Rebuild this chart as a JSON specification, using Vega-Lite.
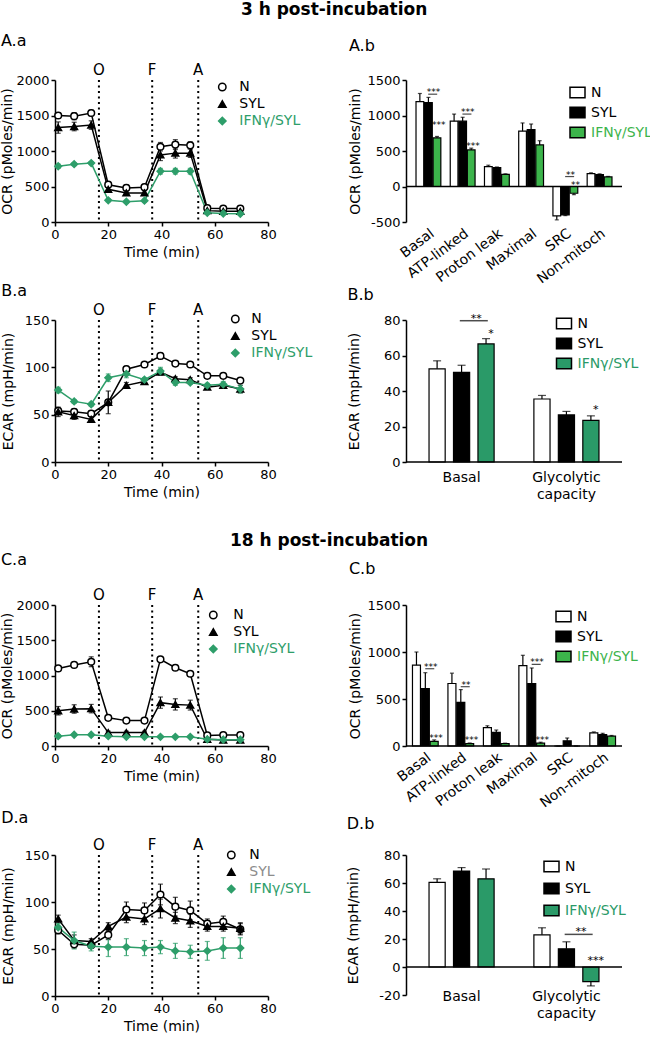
{
  "$schema": "https://vega.github.io/schema/vega-lite/v6.json",
  "background": "white",
  "padding": {"left": 0, "top": 1, "right": 0, "bottom": 0},
  "config": {
    "font": "DejaVu Sans",
    "view": {"stroke": null},
    "axis": {"grid": false, "domainColor": "black", "domainWidth": 1.5, "tickColor": "black", "tickWidth": 1.5, "tickSize": 4, "labelColor": "black", "titleColor": "black", "labelFontSize": 13, "titleFontSize": 14, "titleFontWeight": "normal", "labelPadding": 2, "labelFlush": false, "labelOverlap": false},
    "legend": {"labelFontSize": 14, "rowPadding": 3, "symbolStrokeWidth": 1.5},
    "title": {"fontSize": 16, "fontWeight": "normal", "anchor": "start", "color": "black", "frame": "bounds"},
    "text": {"color": "black"}
  },
  "datasets": {
    "inj": [{"lab": "O", "t": 16.5}, {"lab": "F", "t": 36.5}, {"lab": "A", "t": 53.8}],
    "aa": [
      {"t":1.2,"g":"N","v":1500,"e":40},{"t":7.2,"g":"N","v":1490,"e":50},{"t":13.6,"g":"N","v":1535,"e":40},{"t":20,"g":"N","v":525,"e":40},{"t":26.8,"g":"N","v":480,"e":40},{"t":33.6,"g":"N","v":490,"e":40},{"t":39.6,"g":"N","v":1060,"e":60},{"t":45.2,"g":"N","v":1090,"e":70},{"t":50.8,"g":"N","v":1080,"e":50},{"t":57.2,"g":"N","v":195,"e":30},{"t":63.2,"g":"N","v":190,"e":30},{"t":69.6,"g":"N","v":190,"e":30},
      {"t":1.2,"g":"SYL","v":1330,"e":80},{"t":7.2,"g":"SYL","v":1345,"e":60},{"t":13.6,"g":"SYL","v":1365,"e":60},{"t":20,"g":"SYL","v":460,"e":40},{"t":26.8,"g":"SYL","v":410,"e":30},{"t":33.6,"g":"SYL","v":410,"e":30},{"t":39.6,"g":"SYL","v":945,"e":80},{"t":45.2,"g":"SYL","v":970,"e":70},{"t":50.8,"g":"SYL","v":970,"e":60},{"t":57.2,"g":"SYL","v":160,"e":30},{"t":63.2,"g":"SYL","v":150,"e":20},{"t":69.6,"g":"SYL","v":150,"e":20},
      {"t":1.2,"g":"IFNγ/SYL","v":785,"e":30},{"t":7.2,"g":"IFNγ/SYL","v":815,"e":20},{"t":13.6,"g":"IFNγ/SYL","v":830,"e":20},{"t":20,"g":"IFNγ/SYL","v":305,"e":20},{"t":26.8,"g":"IFNγ/SYL","v":285,"e":20},{"t":33.6,"g":"IFNγ/SYL","v":300,"e":20},{"t":39.6,"g":"IFNγ/SYL","v":715,"e":40},{"t":45.2,"g":"IFNγ/SYL","v":715,"e":40},{"t":50.8,"g":"IFNγ/SYL","v":715,"e":40},{"t":57.2,"g":"IFNγ/SYL","v":130,"e":20},{"t":63.2,"g":"IFNγ/SYL","v":120,"e":20},{"t":69.6,"g":"IFNγ/SYL","v":115,"e":20}
    ],
    "ba": [
      {"t":1.2,"g":"N","v":54,"e":3},{"t":7.2,"g":"N","v":53,"e":3},{"t":13.6,"g":"N","v":51,"e":3},{"t":20,"g":"N","v":63,"e":12},{"t":26.8,"g":"N","v":98,"e":3},{"t":33.6,"g":"N","v":103,"e":2},{"t":39.6,"g":"N","v":112,"e":3},{"t":45.2,"g":"N","v":104,"e":2},{"t":50.8,"g":"N","v":103,"e":2},{"t":57.2,"g":"N","v":91,"e":2},{"t":63.2,"g":"N","v":91,"e":2},{"t":69.6,"g":"N","v":86,"e":2},
      {"t":1.2,"g":"SYL","v":53,"e":5},{"t":7.2,"g":"SYL","v":49,"e":4},{"t":13.6,"g":"SYL","v":45,"e":3},{"t":20,"g":"SYL","v":63,"e":3},{"t":26.8,"g":"SYL","v":81,"e":3},{"t":33.6,"g":"SYL","v":85,"e":2},{"t":39.6,"g":"SYL","v":95,"e":3},{"t":45.2,"g":"SYL","v":88,"e":2},{"t":50.8,"g":"SYL","v":87,"e":2},{"t":57.2,"g":"SYL","v":79,"e":2},{"t":63.2,"g":"SYL","v":81,"e":2},{"t":69.6,"g":"SYL","v":77,"e":4},
      {"t":1.2,"g":"IFNγ/SYL","v":76,"e":3},{"t":7.2,"g":"IFNγ/SYL","v":64,"e":2},{"t":13.6,"g":"IFNγ/SYL","v":61,"e":2},{"t":20,"g":"IFNγ/SYL","v":89,"e":4},{"t":26.8,"g":"IFNγ/SYL","v":93,"e":4},{"t":33.6,"g":"IFNγ/SYL","v":87,"e":2},{"t":39.6,"g":"IFNγ/SYL","v":96,"e":4},{"t":45.2,"g":"IFNγ/SYL","v":84,"e":3},{"t":50.8,"g":"IFNγ/SYL","v":84,"e":2},{"t":57.2,"g":"IFNγ/SYL","v":81,"e":2},{"t":63.2,"g":"IFNγ/SYL","v":82,"e":3},{"t":69.6,"g":"IFNγ/SYL","v":77,"e":4}
    ],
    "ca": [
      {"t":1.2,"g":"N","v":1100,"e":20},{"t":7.2,"g":"N","v":1150,"e":20},{"t":13.6,"g":"N","v":1195,"e":70},{"t":20,"g":"N","v":400,"e":30},{"t":26.8,"g":"N","v":360,"e":20},{"t":33.6,"g":"N","v":360,"e":20},{"t":39.6,"g":"N","v":1230,"e":30},{"t":45.2,"g":"N","v":1110,"e":30},{"t":50.8,"g":"N","v":1025,"e":20},{"t":57.2,"g":"N","v":150,"e":20},{"t":63.2,"g":"N","v":155,"e":20},{"t":69.6,"g":"N","v":155,"e":20},
      {"t":1.2,"g":"SYL","v":500,"e":60},{"t":7.2,"g":"SYL","v":525,"e":60},{"t":13.6,"g":"SYL","v":530,"e":60},{"t":20,"g":"SYL","v":190,"e":20},{"t":26.8,"g":"SYL","v":190,"e":20},{"t":33.6,"g":"SYL","v":190,"e":20},{"t":39.6,"g":"SYL","v":615,"e":80},{"t":45.2,"g":"SYL","v":590,"e":80},{"t":50.8,"g":"SYL","v":580,"e":70},{"t":57.2,"g":"SYL","v":95,"e":20},{"t":63.2,"g":"SYL","v":85,"e":20},{"t":69.6,"g":"SYL","v":85,"e":20},
      {"t":1.2,"g":"IFNγ/SYL","v":140,"e":20},{"t":7.2,"g":"IFNγ/SYL","v":160,"e":10},{"t":13.6,"g":"IFNγ/SYL","v":160,"e":10},{"t":20,"g":"IFNγ/SYL","v":140,"e":10},{"t":26.8,"g":"IFNγ/SYL","v":130,"e":10},{"t":33.6,"g":"IFNγ/SYL","v":130,"e":10},{"t":39.6,"g":"IFNγ/SYL","v":130,"e":10},{"t":45.2,"g":"IFNγ/SYL","v":130,"e":10},{"t":50.8,"g":"IFNγ/SYL","v":130,"e":10},{"t":57.2,"g":"IFNγ/SYL","v":95,"e":10},{"t":63.2,"g":"IFNγ/SYL","v":90,"e":10},{"t":69.6,"g":"IFNγ/SYL","v":90,"e":10}
    ],
    "da": [
      {"t":1.2,"g":"N","v":70,"e":4},{"t":7.2,"g":"N","v":55,"e":4},{"t":13.6,"g":"N","v":54,"e":3},{"t":20,"g":"N","v":65,"e":5},{"t":26.8,"g":"N","v":92,"e":8},{"t":33.6,"g":"N","v":91,"e":8},{"t":39.6,"g":"N","v":108,"e":11},{"t":45.2,"g":"N","v":95,"e":10},{"t":50.8,"g":"N","v":91,"e":10},{"t":57.2,"g":"N","v":77,"e":5},{"t":63.2,"g":"N","v":79,"e":6},{"t":69.6,"g":"N","v":71,"e":6},
      {"t":1.2,"g":"SYL","v":82,"e":4},{"t":7.2,"g":"SYL","v":59,"e":6},{"t":13.6,"g":"SYL","v":58,"e":3},{"t":20,"g":"SYL","v":74,"e":4},{"t":26.8,"g":"SYL","v":84,"e":6},{"t":33.6,"g":"SYL","v":82,"e":6},{"t":39.6,"g":"SYL","v":93,"e":10},{"t":45.2,"g":"SYL","v":83,"e":6},{"t":50.8,"g":"SYL","v":80,"e":7},{"t":57.2,"g":"SYL","v":74,"e":5},{"t":63.2,"g":"SYL","v":74,"e":5},{"t":69.6,"g":"SYL","v":72,"e":6},
      {"t":1.2,"g":"IFNγ/SYL","v":73,"e":4},{"t":7.2,"g":"IFNγ/SYL","v":59,"e":9},{"t":13.6,"g":"IFNγ/SYL","v":53,"e":5},{"t":20,"g":"IFNγ/SYL","v":52,"e":10},{"t":26.8,"g":"IFNγ/SYL","v":52,"e":9},{"t":33.6,"g":"IFNγ/SYL","v":51,"e":8},{"t":39.6,"g":"IFNγ/SYL","v":52,"e":7},{"t":45.2,"g":"IFNγ/SYL","v":48,"e":8},{"t":50.8,"g":"IFNγ/SYL","v":47,"e":7},{"t":57.2,"g":"IFNγ/SYL","v":48,"e":10},{"t":63.2,"g":"IFNγ/SYL","v":51,"e":11},{"t":69.6,"g":"IFNγ/SYL","v":51,"e":11}
    ],
    "ab": [
      {"cat":"Basal","g":"N","v":1195,"hi":1310},{"cat":"Basal","g":"SYL","v":1180,"hi":1255},{"cat":"Basal","g":"IFNγ/SYL","v":685,"hi":705},
      {"cat":"ATP-linked","g":"N","v":920,"hi":1020},{"cat":"ATP-linked","g":"SYL","v":920,"hi":975},{"cat":"ATP-linked","g":"IFNγ/SYL","v":515,"hi":540},
      {"cat":"Proton leak","g":"N","v":280,"hi":300},{"cat":"Proton leak","g":"SYL","v":265,"hi":275},{"cat":"Proton leak","g":"IFNγ/SYL","v":170,"hi":178},
      {"cat":"Maximal","g":"N","v":780,"hi":895},{"cat":"Maximal","g":"SYL","v":800,"hi":880},{"cat":"Maximal","g":"IFNγ/SYL","v":585,"hi":645},
      {"cat":"SRC","g":"N","v":-415,"hi":-470},{"cat":"SRC","g":"SYL","v":-400,"hi":-410},{"cat":"SRC","g":"IFNγ/SYL","v":-95,"hi":-115},
      {"cat":"Non-mitoch","g":"N","v":180,"hi":192},{"cat":"Non-mitoch","g":"SYL","v":168,"hi":178},{"cat":"Non-mitoch","g":"IFNγ/SYL","v":135,"hi":142}
    ],
    "abl": [{"cat":"Basal","pos":"SYL|IFN","y":1300},{"cat":"ATP-linked","pos":"SYL|IFN","y":1020},{"cat":"SRC","pos":"SYL|IFN","y":140}],
    "abs": [{"cat":"Basal","pos":"SYL|IFN","y":1300,"s":"***"},{"cat":"ATP-linked","pos":"SYL|IFN","y":1020,"s":"***"},{"cat":"SRC","pos":"SYL|IFN","y":140,"s":"**"},{"cat":"Basal","pos":"IFN","y":845,"s":"***"},{"cat":"ATP-linked","pos":"IFN","y":545,"s":"***"},{"cat":"SRC","pos":"IFN","y":-10,"s":"**"}],
    "bb": [
      {"cat":"Basal","g":"N","v":52.5,"hi":57},{"cat":"Basal","g":"SYL","v":50.5,"hi":54.5},{"cat":"Basal","g":"IFNγ/SYL","v":66.5,"hi":69.5},
      {"cat":"Glycolytic capacity","g":"N","v":35.5,"hi":37.5},{"cat":"Glycolytic capacity","g":"SYL","v":26.5,"hi":28.5},{"cat":"Glycolytic capacity","g":"IFNγ/SYL","v":23.5,"hi":26}
    ],
    "bbl": [{"cat":"Basal","pos":"SYL|IFN","y":79.6}],
    "bbs": [{"cat":"Basal","pos":"SYL|IFN","y":79.6,"s":"**"},{"cat":"Basal","pos":"IFN","y":71,"s":"*"},{"cat":"Glycolytic capacity","pos":"IFN","y":28,"s":"*"}],
    "cb": [
      {"cat":"Basal","g":"N","v":860,"hi":1000},{"cat":"Basal","g":"SYL","v":610,"hi":780},{"cat":"Basal","g":"IFNγ/SYL","v":50,"hi":65},
      {"cat":"ATP-linked","g":"N","v":665,"hi":775},{"cat":"ATP-linked","g":"SYL","v":465,"hi":600},{"cat":"ATP-linked","g":"IFNγ/SYL","v":25,"hi":32},
      {"cat":"Proton leak","g":"N","v":195,"hi":215},{"cat":"Proton leak","g":"SYL","v":145,"hi":170},{"cat":"Proton leak","g":"IFNγ/SYL","v":25,"hi":30},
      {"cat":"Maximal","g":"N","v":855,"hi":965},{"cat":"Maximal","g":"SYL","v":665,"hi":830},{"cat":"Maximal","g":"IFNγ/SYL","v":30,"hi":40},
      {"cat":"SRC","g":"N","v":0,"hi":0},{"cat":"SRC","g":"SYL","v":55,"hi":85},{"cat":"SRC","g":"IFNγ/SYL","v":0,"hi":0},
      {"cat":"Non-mitoch","g":"N","v":140,"hi":150},{"cat":"Non-mitoch","g":"SYL","v":120,"hi":135},{"cat":"Non-mitoch","g":"IFNγ/SYL","v":105,"hi":112}
    ],
    "cbl": [{"cat":"Basal","pos":"SYL|IFN","y":822},{"cat":"ATP-linked","pos":"SYL|IFN","y":631},{"cat":"Maximal","pos":"SYL|IFN","y":869}],
    "cbs": [{"cat":"Basal","pos":"SYL|IFN","y":822,"s":"***"},{"cat":"ATP-linked","pos":"SYL|IFN","y":631,"s":"**"},{"cat":"Maximal","pos":"SYL|IFN","y":869,"s":"***"},{"cat":"Basal","pos":"IFN","y":61,"s":"***"},{"cat":"ATP-linked","pos":"IFN","y":43,"s":"***"},{"cat":"Maximal","pos":"IFN","y":43,"s":"***"}],
    "db": [
      {"cat":"Basal","g":"N","v":60.5,"hi":63},{"cat":"Basal","g":"SYL","v":68.5,"hi":71},{"cat":"Basal","g":"IFNγ/SYL","v":63,"hi":70},
      {"cat":"Glycolytic capacity","g":"N","v":23,"hi":28},{"cat":"Glycolytic capacity","g":"SYL","v":13,"hi":18},{"cat":"Glycolytic capacity","g":"IFNγ/SYL","v":-10.5,"hi":-13.5}
    ],
    "dbl": [{"cat":"Glycolytic capacity","pos":"SYL|IFN","y":23.3}],
    "dbs": [{"cat":"Glycolytic capacity","pos":"SYL|IFN","y":23.3,"s":"**"},{"cat":"Glycolytic capacity","pos":"IFN","y":3,"s":"***"}],
    "zero": [{"z": 0}]
  },
  "spacing": 31,
  "resolve": {"scale": {"color": "independent", "fill": "independent", "stroke": "independent", "shape": "independent", "xOffset": "independent"}, "legend": {"color": "independent", "fill": "independent", "stroke": "independent", "shape": "independent"}},
  "vconcat": [
    {
      "title": {"text": "3 h post-incubation", "anchor": "start", "dx": 240, "frame": "bounds", "fontSize": 17, "fontWeight": "bold", "offset": 14},
      "columns": 2, "bounds": "flush", "align": "each", "spacing": {"row": 98, "column": 138},
      "resolve": {"scale": {"color": "independent", "fill": "independent", "stroke": "independent", "shape": "independent", "xOffset": "independent"}, "legend": {"color": "independent", "fill": "independent", "stroke": "independent", "shape": "independent"}},
      "concat": [
        {
          "width": 213, "height": 142,
          "title": {"text": "A.a", "offset": 14},
          "encoding": {"x": {"field": "t", "type": "quantitative", "scale": {"domain": [0, 80], "nice": false}, "axis": {"values": [0, 20, 40, 60, 80], "title": "Time (min)"}}},
          "layer": [
            {"data": {"name": "inj"}, "mark": {"type": "rule", "strokeDash": [2, 3.5], "strokeWidth": 2, "color": "black"}, "encoding": {}},
            {"data": {"name": "inj"}, "mark": {"type": "text", "baseline": "bottom", "dy": -2, "fontSize": 15}, "encoding": {"y": {"datum": 2000, "type": "quantitative", "scale": {"domain": [0, 2000], "nice": false}, "axis": {"values": [0, 500, 1000, 1500, 2000], "labelExpr": "'' + datum.value", "title": "OCR (pMoles/min)", "titlePadding": 1}}, "text": {"field": "lab"}}},
            {"data": {"name": "aa"}, "transform": [{"filter": "datum.g != 'IFNγ/SYL'"}], "mark": {"type": "errorbar", "ticks": true, "size": 5, "thickness": 1.2, "color": "black"}, "encoding": {"y": {"field": "v", "type": "quantitative", "scale": {"domain": [0, 2000], "nice": false}, "axis": {"values": [0, 500, 1000, 1500, 2000], "labelExpr": "'' + datum.value", "title": "OCR (pMoles/min)", "titlePadding": 1}}, "yError": {"field": "e"}}},
            {"data": {"name": "aa"}, "transform": [{"filter": "datum.g == 'IFNγ/SYL'"}], "mark": {"type": "errorbar", "ticks": true, "size": 5, "thickness": 1.2, "color": "#2e9e6a"}, "encoding": {"y": {"field": "v", "type": "quantitative", "scale": {"domain": [0, 2000], "nice": false}, "axis": {"values": [0, 500, 1000, 1500, 2000], "labelExpr": "'' + datum.value", "title": "OCR (pMoles/min)", "titlePadding": 1}}, "yError": {"field": "e"}}},
            {"data": {"name": "aa"}, "transform": [{"filter": "datum.g != 'IFNγ/SYL'"}], "mark": {"type": "line", "strokeWidth": 1.5, "color": "black"}, "encoding": {"y": {"field": "v", "type": "quantitative", "scale": {"domain": [0, 2000], "nice": false}, "axis": {"values": [0, 500, 1000, 1500, 2000], "labelExpr": "'' + datum.value", "title": "OCR (pMoles/min)", "titlePadding": 1}}, "detail": {"field": "g"}}},
            {"data": {"name": "aa"}, "transform": [{"filter": "datum.g == 'IFNγ/SYL'"}], "mark": {"type": "line", "strokeWidth": 1.5, "color": "#2e9e6a"}, "encoding": {"y": {"field": "v", "type": "quantitative", "scale": {"domain": [0, 2000], "nice": false}, "axis": {"values": [0, 500, 1000, 1500, 2000], "labelExpr": "'' + datum.value", "title": "OCR (pMoles/min)", "titlePadding": 1}}}},
            {"data": {"name": "aa"}, "mark": {"type": "point", "size": 45, "strokeWidth": 1.5, "opacity": 1}, "encoding": {"y": {"field": "v", "type": "quantitative", "scale": {"domain": [0, 2000], "nice": false}, "axis": {"values": [0, 500, 1000, 1500, 2000], "labelExpr": "'' + datum.value", "title": "OCR (pMoles/min)", "titlePadding": 1}},
              "shape": {"field": "g", "type": "nominal", "scale": {"domain": ["N", "SYL", "IFNγ/SYL"], "range": ["circle", "triangle-up", "diamond"]}, "legend": {"orient": "none", "title": null, "legendX": 160.3, "legendY": 0, "labelOffset": 10, "symbolSize": 55, "labelColor": {"expr": "datum.label == 'IFNγ/SYL' ? '#2e9e6a' : 'black'"}}},
              "fill": {"field": "g", "type": "nominal", "scale": {"domain": ["N", "SYL", "IFNγ/SYL"], "range": ["white", "black", "#2e9e6a"]}, "legend": {"orient": "none", "title": null, "legendX": 160.3, "legendY": 0, "labelOffset": 10, "symbolSize": 55, "labelColor": {"expr": "datum.label == 'IFNγ/SYL' ? '#2e9e6a' : 'black'"}}},
              "stroke": {"field": "g", "type": "nominal", "scale": {"domain": ["N", "SYL", "IFNγ/SYL"], "range": ["black", "black", "#2e9e6a"]}, "legend": {"orient": "none", "title": null, "legendX": 160.3, "legendY": 0, "labelOffset": 10, "symbolSize": 55, "labelColor": {"expr": "datum.label == 'IFNγ/SYL' ? '#2e9e6a' : 'black'"}}}}}
          ]
        },
        {
          "width": 216, "height": 142,
          "title": {"text": "A.b", "offset": 20},
          "resolve": {"scale": {"xOffset": "independent"}},
          "layer": [
            {"data": {"name": "ab"}, "mark": {"type": "bar", "stroke": "black", "strokeWidth": 1.2},
             "encoding": {
               "x": {"field": "cat", "type": "nominal", "sort": ["Basal", "ATP-linked", "Proton leak", "Maximal", "SRC", "Non-mitoch"], "scale": {"paddingInner": 0.25, "paddingOuter": 0.28}, "axis": {"title": null, "domain": false, "ticks": false, "labelAngle": -37, "labelFontSize": 14, "labelPadding": 4}},
               "xOffset": {"field": "g", "type": "nominal", "sort": ["N", "SYL", "IFNγ/SYL"], "scale": {"domain": ["N", "SYL", "IFNγ/SYL"], "paddingInner": 0.1, "paddingOuter": 0.05}},
               "y": {"field": "v", "type": "quantitative", "stack": null, "scale": {"domain": [-500, 1500], "nice": false}, "axis": {"values": [-500, 0, 500, 1000, 1500], "labelExpr": "'' + datum.value", "title": "OCR (pMoles/min)", "titlePadding": 4}},
               "fill": {"field": "g", "type": "nominal", "scale": {"domain": ["N", "SYL", "IFNγ/SYL"], "range": ["white", "black", "#3cb44b"]}, "legend": {"orient": "none", "title": null, "legendX": 163, "legendY": 4, "symbolType": "M-1,-0.7H1V0.7H-1Z", "symbolSize": 225, "symbolStrokeColor": "black", "labelOffset": 5, "labelColor": {"expr": "datum.label == 'IFNγ/SYL' ? '#3cb44b' : 'black'"}}}
             }},
            {"data": {"name": "ab"}, "mark": {"type": "rule", "strokeWidth": 1.2, "color": "black"},
             "encoding": {
               "x": {"field": "cat", "type": "nominal", "sort": ["Basal", "ATP-linked", "Proton leak", "Maximal", "SRC", "Non-mitoch"], "scale": {"paddingInner": 0.25, "paddingOuter": 0.28}, "axis": {"title": null, "domain": false, "ticks": false, "labelAngle": -37, "labelFontSize": 14, "labelPadding": 4}},
               "xOffset": {"field": "g", "type": "nominal", "sort": ["N", "SYL", "IFNγ/SYL"], "scale": {"domain": ["N", "SYL", "IFNγ/SYL"], "paddingInner": 0.1, "paddingOuter": 0.05}},
               "y": {"field": "v", "type": "quantitative", "stack": null, "scale": {"domain": [-500, 1500], "nice": false}, "axis": {"values": [-500, 0, 500, 1000, 1500], "labelExpr": "'' + datum.value", "title": "OCR (pMoles/min)", "titlePadding": 4}},
               "y2": {"field": "hi"}
             }},
            {"data": {"name": "ab"}, "mark": {"type": "tick", "orient": "horizontal", "size": 4, "thickness": 1.2, "color": "black"},
             "encoding": {
               "x": {"field": "cat", "type": "nominal", "sort": ["Basal", "ATP-linked", "Proton leak", "Maximal", "SRC", "Non-mitoch"], "scale": {"paddingInner": 0.25, "paddingOuter": 0.28}, "axis": {"title": null, "domain": false, "ticks": false, "labelAngle": -37, "labelFontSize": 14, "labelPadding": 4}},
               "xOffset": {"field": "g", "type": "nominal", "sort": ["N", "SYL", "IFNγ/SYL"], "scale": {"domain": ["N", "SYL", "IFNγ/SYL"], "paddingInner": 0.1, "paddingOuter": 0.05}},
               "y": {"field": "hi", "type": "quantitative", "stack": null, "scale": {"domain": [-500, 1500], "nice": false}, "axis": {"values": [-500, 0, 500, 1000, 1500], "labelExpr": "'' + datum.value", "title": "OCR (pMoles/min)", "titlePadding": 4}}
             }},
            {"data": {"name": "zero"}, "mark": {"type": "rule", "strokeWidth": 1.5, "color": "black"},
             "encoding": {"y": {"field": "z", "type": "quantitative", "scale": {"domain": [-500, 1500], "nice": false}, "axis": {"values": [-500, 0, 500, 1000, 1500], "labelExpr": "'' + datum.value", "title": "OCR (pMoles/min)", "titlePadding": 4}}}},
            {"data": {"name": "abl"}, "mark": {"type": "tick", "orient": "horizontal", "size": 9, "thickness": 1.2, "color": "black"},
             "encoding": {
               "x": {"field": "cat", "type": "nominal", "sort": ["Basal", "ATP-linked", "Proton leak", "Maximal", "SRC", "Non-mitoch"], "scale": {"paddingInner": 0.25, "paddingOuter": 0.28}, "axis": {"title": null, "domain": false, "ticks": false, "labelAngle": -37, "labelFontSize": 14, "labelPadding": 4}},
               "xOffset": {"field": "pos", "type": "nominal", "scale": {"domain": ["N", "N|SYL", "SYL", "SYL|IFN", "IFN"], "paddingInner": 0, "paddingOuter": 0.5}},
               "y": {"field": "y", "type": "quantitative", "scale": {"domain": [-500, 1500], "nice": false}, "axis": {"values": [-500, 0, 500, 1000, 1500], "labelExpr": "'' + datum.value", "title": "OCR (pMoles/min)", "titlePadding": 4}}
             }},
            {"data": {"name": "abs"}, "mark": {"type": "text", "fontSize": 9, "baseline": "alphabetic", "dy": 1},
             "encoding": {
               "x": {"field": "cat", "type": "nominal", "sort": ["Basal", "ATP-linked", "Proton leak", "Maximal", "SRC", "Non-mitoch"], "scale": {"paddingInner": 0.25, "paddingOuter": 0.28}, "axis": {"title": null, "domain": false, "ticks": false, "labelAngle": -37, "labelFontSize": 14, "labelPadding": 4}},
               "xOffset": {"field": "pos", "type": "nominal", "scale": {"domain": ["N", "N|SYL", "SYL", "SYL|IFN", "IFN"], "paddingInner": 0, "paddingOuter": 0.5}},
               "y": {"field": "y", "type": "quantitative", "scale": {"domain": [-500, 1500], "nice": false}, "axis": {"values": [-500, 0, 500, 1000, 1500], "labelExpr": "'' + datum.value", "title": "OCR (pMoles/min)", "titlePadding": 4}},
               "text": {"field": "s"}
             }}
          ]
        },
        {
          "width": 213, "height": 142,
          "title": {"text": "B.a", "offset": 4},
          "encoding": {"x": {"field": "t", "type": "quantitative", "scale": {"domain": [0, 80], "nice": false}, "axis": {"values": [0, 20, 40, 60, 80], "title": "Time (min)"}}},
          "layer": [
            {"data": {"name": "inj"}, "mark": {"type": "rule", "strokeDash": [2, 3.5], "strokeWidth": 2, "color": "black"}, "encoding": {}},
            {"data": {"name": "inj"}, "mark": {"type": "text", "baseline": "bottom", "dy": -2, "fontSize": 15}, "encoding": {"y": {"datum": 150, "type": "quantitative", "scale": {"domain": [0, 150], "nice": false}, "axis": {"values": [0, 50, 100, 150], "title": "ECAR (mpH/min)", "titlePadding": 9}}, "text": {"field": "lab"}}},
            {"data": {"name": "ba"}, "transform": [{"filter": "datum.g != 'IFNγ/SYL'"}], "mark": {"type": "errorbar", "ticks": true, "size": 5, "thickness": 1.2, "color": "black"}, "encoding": {"y": {"field": "v", "type": "quantitative", "scale": {"domain": [0, 150], "nice": false}, "axis": {"values": [0, 50, 100, 150], "title": "ECAR (mpH/min)", "titlePadding": 9}}, "yError": {"field": "e"}}},
            {"data": {"name": "ba"}, "transform": [{"filter": "datum.g == 'IFNγ/SYL'"}], "mark": {"type": "errorbar", "ticks": true, "size": 5, "thickness": 1.2, "color": "#2e9e6a"}, "encoding": {"y": {"field": "v", "type": "quantitative", "scale": {"domain": [0, 150], "nice": false}, "axis": {"values": [0, 50, 100, 150], "title": "ECAR (mpH/min)", "titlePadding": 9}}, "yError": {"field": "e"}}},
            {"data": {"name": "ba"}, "transform": [{"filter": "datum.g != 'IFNγ/SYL'"}], "mark": {"type": "line", "strokeWidth": 1.5, "color": "black"}, "encoding": {"y": {"field": "v", "type": "quantitative", "scale": {"domain": [0, 150], "nice": false}, "axis": {"values": [0, 50, 100, 150], "title": "ECAR (mpH/min)", "titlePadding": 9}}, "detail": {"field": "g"}}},
            {"data": {"name": "ba"}, "transform": [{"filter": "datum.g == 'IFNγ/SYL'"}], "mark": {"type": "line", "strokeWidth": 1.5, "color": "#2e9e6a"}, "encoding": {"y": {"field": "v", "type": "quantitative", "scale": {"domain": [0, 150], "nice": false}, "axis": {"values": [0, 50, 100, 150], "title": "ECAR (mpH/min)", "titlePadding": 9}}}},
            {"data": {"name": "ba"}, "mark": {"type": "point", "size": 45, "strokeWidth": 1.5, "opacity": 1}, "encoding": {"y": {"field": "v", "type": "quantitative", "scale": {"domain": [0, 150], "nice": false}, "axis": {"values": [0, 50, 100, 150], "title": "ECAR (mpH/min)", "titlePadding": 9}},
              "shape": {"field": "g", "type": "nominal", "scale": {"domain": ["N", "SYL", "IFNγ/SYL"], "range": ["circle", "triangle-up", "diamond"]}, "legend": {"orient": "none", "title": null, "legendX": 173.3, "legendY": -8, "labelOffset": 9, "symbolSize": 55, "labelColor": {"expr": "datum.label == 'IFNγ/SYL' ? '#2e9e6a' : 'black'"}}},
              "fill": {"field": "g", "type": "nominal", "scale": {"domain": ["N", "SYL", "IFNγ/SYL"], "range": ["white", "black", "#2e9e6a"]}, "legend": {"orient": "none", "title": null, "legendX": 173.3, "legendY": -8, "labelOffset": 9, "symbolSize": 55, "labelColor": {"expr": "datum.label == 'IFNγ/SYL' ? '#2e9e6a' : 'black'"}}},
              "stroke": {"field": "g", "type": "nominal", "scale": {"domain": ["N", "SYL", "IFNγ/SYL"], "range": ["black", "black", "#2e9e6a"]}, "legend": {"orient": "none", "title": null, "legendX": 173.3, "legendY": -8, "labelOffset": 9, "symbolSize": 55, "labelColor": {"expr": "datum.label == 'IFNγ/SYL' ? '#2e9e6a' : 'black'"}}}}}
          ]
        },
        {
          "width": 216, "height": 142,
          "title": {"text": "B.b", "offset": 10},
          "resolve": {"scale": {"xOffset": "independent"}},
          "layer": [
            {"data": {"name": "bb"}, "mark": {"type": "bar", "stroke": "black", "strokeWidth": 1.2},
             "encoding": {
               "x": {"field": "cat", "type": "nominal", "sort": ["Basal", "Glycolytic capacity"], "scale": {"paddingInner": 0.3, "paddingOuter": 0.18}, "axis": {"title": null, "domain": false, "ticks": false, "labelAngle": 0, "labelFontSize": 14, "labelPadding": 8, "labelLineHeight": 17, "labelExpr": "datum.label == 'Glycolytic capacity' ? ['Glycolytic', 'capacity'] : datum.label"}},
               "xOffset": {"field": "g", "type": "nominal", "sort": ["N", "SYL", "IFNγ/SYL"], "scale": {"domain": ["N", "SYL", "IFNγ/SYL"], "paddingInner": 0.34, "paddingOuter": 0.17}},
               "y": {"field": "v", "type": "quantitative", "stack": null, "scale": {"domain": [0, 80], "nice": false}, "axis": {"values": [0, 20, 40, 60, 80], "title": "ECAR (mpH/min)", "titlePadding": 22}},
               "fill": {"field": "g", "type": "nominal", "scale": {"domain": ["N", "SYL", "IFNγ/SYL"], "range": ["white", "black", "#2a9a68"]}, "legend": {"orient": "none", "title": null, "legendX": 149.5, "legendY": -5, "symbolType": "M-1,-0.7H1V0.7H-1Z", "symbolSize": 225, "symbolStrokeColor": "black", "labelOffset": 5, "labelColor": {"expr": "datum.label == 'IFNγ/SYL' ? '#2a9a68' : 'black'"}}}
             }},
            {"data": {"name": "bb"}, "mark": {"type": "rule", "strokeWidth": 1.2, "color": "black"},
             "encoding": {
               "x": {"field": "cat", "type": "nominal", "sort": ["Basal", "Glycolytic capacity"], "scale": {"paddingInner": 0.3, "paddingOuter": 0.18}, "axis": {"title": null, "domain": false, "ticks": false, "labelAngle": 0, "labelFontSize": 14, "labelPadding": 8, "labelLineHeight": 17, "labelExpr": "datum.label == 'Glycolytic capacity' ? ['Glycolytic', 'capacity'] : datum.label"}},
               "xOffset": {"field": "g", "type": "nominal", "sort": ["N", "SYL", "IFNγ/SYL"], "scale": {"domain": ["N", "SYL", "IFNγ/SYL"], "paddingInner": 0.34, "paddingOuter": 0.17}},
               "y": {"field": "v", "type": "quantitative", "stack": null, "scale": {"domain": [0, 80], "nice": false}, "axis": {"values": [0, 20, 40, 60, 80], "title": "ECAR (mpH/min)", "titlePadding": 22}},
               "y2": {"field": "hi"}
             }},
            {"data": {"name": "bb"}, "mark": {"type": "tick", "orient": "horizontal", "size": 8, "thickness": 1.2, "color": "black"},
             "encoding": {
               "x": {"field": "cat", "type": "nominal", "sort": ["Basal", "Glycolytic capacity"], "scale": {"paddingInner": 0.3, "paddingOuter": 0.18}, "axis": {"title": null, "domain": false, "ticks": false, "labelAngle": 0, "labelFontSize": 14, "labelPadding": 8, "labelLineHeight": 17, "labelExpr": "datum.label == 'Glycolytic capacity' ? ['Glycolytic', 'capacity'] : datum.label"}},
               "xOffset": {"field": "g", "type": "nominal", "sort": ["N", "SYL", "IFNγ/SYL"], "scale": {"domain": ["N", "SYL", "IFNγ/SYL"], "paddingInner": 0.34, "paddingOuter": 0.17}},
               "y": {"field": "hi", "type": "quantitative", "stack": null, "scale": {"domain": [0, 80], "nice": false}, "axis": {"values": [0, 20, 40, 60, 80], "title": "ECAR (mpH/min)", "titlePadding": 22}}
             }},
            {"data": {"name": "zero"}, "mark": {"type": "rule", "strokeWidth": 1.5, "color": "black"},
             "encoding": {"y": {"field": "z", "type": "quantitative", "scale": {"domain": [0, 80], "nice": false}, "axis": {"values": [0, 20, 40, 60, 80], "title": "ECAR (mpH/min)", "titlePadding": 22}}}},
            {"data": {"name": "bbl"}, "mark": {"type": "tick", "orient": "horizontal", "size": 28, "thickness": 1.5, "color": "black"},
             "encoding": {
               "x": {"field": "cat", "type": "nominal", "sort": ["Basal", "Glycolytic capacity"], "scale": {"paddingInner": 0.3, "paddingOuter": 0.18}, "axis": {"title": null, "domain": false, "ticks": false, "labelAngle": 0, "labelFontSize": 14, "labelPadding": 8, "labelLineHeight": 17, "labelExpr": "datum.label == 'Glycolytic capacity' ? ['Glycolytic', 'capacity'] : datum.label"}},
               "xOffset": {"field": "pos", "type": "nominal", "scale": {"domain": ["N", "N|SYL", "SYL", "SYL|IFN", "IFN"], "paddingInner": 0, "paddingOuter": 0.5}},
               "y": {"field": "y", "type": "quantitative", "scale": {"domain": [0, 80], "nice": false}, "axis": {"values": [0, 20, 40, 60, 80], "title": "ECAR (mpH/min)", "titlePadding": 22}}
             }},
            {"data": {"name": "bbs"}, "mark": {"type": "text", "fontSize": 11, "baseline": "alphabetic", "dy": 1},
             "encoding": {
               "x": {"field": "cat", "type": "nominal", "sort": ["Basal", "Glycolytic capacity"], "scale": {"paddingInner": 0.3, "paddingOuter": 0.18}, "axis": {"title": null, "domain": false, "ticks": false, "labelAngle": 0, "labelFontSize": 14, "labelPadding": 8, "labelLineHeight": 17, "labelExpr": "datum.label == 'Glycolytic capacity' ? ['Glycolytic', 'capacity'] : datum.label"}},
               "xOffset": {"field": "pos", "type": "nominal", "scale": {"domain": ["N", "N|SYL", "SYL", "SYL|IFN", "IFN"], "paddingInner": 0, "paddingOuter": 0.5}},
               "y": {"field": "y", "type": "quantitative", "scale": {"domain": [0, 80], "nice": false}, "axis": {"values": [0, 20, 40, 60, 80], "title": "ECAR (mpH/min)", "titlePadding": 22}},
               "text": {"field": "s"}
             }}
          ]
        }
      ]
    },
    {
      "title": {"text": "18 h post-incubation", "anchor": "start", "dx": 229, "frame": "bounds", "fontSize": 17, "fontWeight": "bold", "offset": 2},
      "columns": 2, "bounds": "flush", "align": "each", "spacing": {"row": 109, "column": 138},
      "resolve": {"scale": {"color": "independent", "fill": "independent", "stroke": "independent", "shape": "independent", "xOffset": "independent"}, "legend": {"color": "independent", "fill": "independent", "stroke": "independent", "shape": "independent"}},
      "concat": [
        {
          "width": 213, "height": 141,
          "title": {"text": "C.a", "offset": 20},
          "encoding": {"x": {"field": "t", "type": "quantitative", "scale": {"domain": [0, 80], "nice": false}, "axis": {"values": [0, 20, 40, 60, 80], "title": "Time (min)"}}},
          "layer": [
            {"data": {"name": "inj"}, "mark": {"type": "rule", "strokeDash": [2, 3.5], "strokeWidth": 2, "color": "black"}, "encoding": {}},
            {"data": {"name": "inj"}, "mark": {"type": "text", "baseline": "bottom", "dy": -2, "fontSize": 15}, "encoding": {"y": {"datum": 2000, "type": "quantitative", "scale": {"domain": [0, 2000], "nice": false}, "axis": {"values": [0, 500, 1000, 1500, 2000], "labelExpr": "'' + datum.value", "title": "OCR (pMoles/min)", "titlePadding": 1}}, "text": {"field": "lab"}}},
            {"data": {"name": "ca"}, "transform": [{"filter": "datum.g != 'IFNγ/SYL'"}], "mark": {"type": "errorbar", "ticks": true, "size": 5, "thickness": 1.2, "color": "black"}, "encoding": {"y": {"field": "v", "type": "quantitative", "scale": {"domain": [0, 2000], "nice": false}, "axis": {"values": [0, 500, 1000, 1500, 2000], "labelExpr": "'' + datum.value", "title": "OCR (pMoles/min)", "titlePadding": 1}}, "yError": {"field": "e"}}},
            {"data": {"name": "ca"}, "transform": [{"filter": "datum.g == 'IFNγ/SYL'"}], "mark": {"type": "errorbar", "ticks": true, "size": 5, "thickness": 1.2, "color": "#2e9e6a"}, "encoding": {"y": {"field": "v", "type": "quantitative", "scale": {"domain": [0, 2000], "nice": false}, "axis": {"values": [0, 500, 1000, 1500, 2000], "labelExpr": "'' + datum.value", "title": "OCR (pMoles/min)", "titlePadding": 1}}, "yError": {"field": "e"}}},
            {"data": {"name": "ca"}, "transform": [{"filter": "datum.g != 'IFNγ/SYL'"}], "mark": {"type": "line", "strokeWidth": 1.5, "color": "black"}, "encoding": {"y": {"field": "v", "type": "quantitative", "scale": {"domain": [0, 2000], "nice": false}, "axis": {"values": [0, 500, 1000, 1500, 2000], "labelExpr": "'' + datum.value", "title": "OCR (pMoles/min)", "titlePadding": 1}}, "detail": {"field": "g"}}},
            {"data": {"name": "ca"}, "transform": [{"filter": "datum.g == 'IFNγ/SYL'"}], "mark": {"type": "line", "strokeWidth": 1.5, "color": "#2e9e6a"}, "encoding": {"y": {"field": "v", "type": "quantitative", "scale": {"domain": [0, 2000], "nice": false}, "axis": {"values": [0, 500, 1000, 1500, 2000], "labelExpr": "'' + datum.value", "title": "OCR (pMoles/min)", "titlePadding": 1}}}},
            {"data": {"name": "ca"}, "mark": {"type": "point", "size": 45, "strokeWidth": 1.5, "opacity": 1}, "encoding": {"y": {"field": "v", "type": "quantitative", "scale": {"domain": [0, 2000], "nice": false}, "axis": {"values": [0, 500, 1000, 1500, 2000], "labelExpr": "'' + datum.value", "title": "OCR (pMoles/min)", "titlePadding": 1}},
              "shape": {"field": "g", "type": "nominal", "scale": {"domain": ["N", "SYL", "IFNγ/SYL"], "range": ["circle", "triangle-up", "diamond"]}, "legend": {"orient": "none", "title": null, "legendX": 151.3, "legendY": 3, "labelOffset": 13, "symbolSize": 55, "labelColor": {"expr": "datum.label == 'IFNγ/SYL' ? '#2e9e6a' : 'black'"}}},
              "fill": {"field": "g", "type": "nominal", "scale": {"domain": ["N", "SYL", "IFNγ/SYL"], "range": ["white", "black", "#2e9e6a"]}, "legend": {"orient": "none", "title": null, "legendX": 151.3, "legendY": 3, "labelOffset": 13, "symbolSize": 55, "labelColor": {"expr": "datum.label == 'IFNγ/SYL' ? '#2e9e6a' : 'black'"}}},
              "stroke": {"field": "g", "type": "nominal", "scale": {"domain": ["N", "SYL", "IFNγ/SYL"], "range": ["black", "black", "#2e9e6a"]}, "legend": {"orient": "none", "title": null, "legendX": 151.3, "legendY": 3, "labelOffset": 13, "symbolSize": 55, "labelColor": {"expr": "datum.label == 'IFNγ/SYL' ? '#2e9e6a' : 'black'"}}}}}
          ]
        },
        {
          "width": 216, "height": 141,
          "title": {"text": "C.b", "offset": 22},
          "resolve": {"scale": {"xOffset": "independent"}},
          "layer": [
            {"data": {"name": "cb"}, "mark": {"type": "bar", "stroke": "black", "strokeWidth": 1.2},
             "encoding": {
               "x": {"field": "cat", "type": "nominal", "sort": ["Basal", "ATP-linked", "Proton leak", "Maximal", "SRC", "Non-mitoch"], "scale": {"paddingInner": 0.25, "paddingOuter": 0.17}, "axis": {"title": null, "domain": false, "ticks": false, "labelAngle": -37, "labelFontSize": 14, "labelPadding": 4}},
               "xOffset": {"field": "g", "type": "nominal", "sort": ["N", "SYL", "IFNγ/SYL"], "scale": {"domain": ["N", "SYL", "IFNγ/SYL"], "paddingInner": 0.1, "paddingOuter": 0.05}},
               "y": {"field": "v", "type": "quantitative", "stack": null, "scale": {"domain": [0, 1500], "nice": false}, "axis": {"values": [0, 500, 1000, 1500], "labelExpr": "'' + datum.value", "title": "OCR (pMoles/min)", "titlePadding": 4}},
               "fill": {"field": "g", "type": "nominal", "scale": {"domain": ["N", "SYL", "IFNγ/SYL"], "range": ["white", "black", "#3cb44b"]}, "legend": {"orient": "none", "title": null, "legendX": 149, "legendY": 3, "symbolType": "M-1,-0.7H1V0.7H-1Z", "symbolSize": 225, "symbolStrokeColor": "black", "labelOffset": 5, "labelColor": {"expr": "datum.label == 'IFNγ/SYL' ? '#3cb44b' : 'black'"}}}
             }},
            {"data": {"name": "cb"}, "mark": {"type": "rule", "strokeWidth": 1.2, "color": "black"},
             "encoding": {
               "x": {"field": "cat", "type": "nominal", "sort": ["Basal", "ATP-linked", "Proton leak", "Maximal", "SRC", "Non-mitoch"], "scale": {"paddingInner": 0.25, "paddingOuter": 0.17}, "axis": {"title": null, "domain": false, "ticks": false, "labelAngle": -37, "labelFontSize": 14, "labelPadding": 4}},
               "xOffset": {"field": "g", "type": "nominal", "sort": ["N", "SYL", "IFNγ/SYL"], "scale": {"domain": ["N", "SYL", "IFNγ/SYL"], "paddingInner": 0.1, "paddingOuter": 0.05}},
               "y": {"field": "v", "type": "quantitative", "stack": null, "scale": {"domain": [0, 1500], "nice": false}, "axis": {"values": [0, 500, 1000, 1500], "labelExpr": "'' + datum.value", "title": "OCR (pMoles/min)", "titlePadding": 4}},
               "y2": {"field": "hi"}
             }},
            {"data": {"name": "cb"}, "mark": {"type": "tick", "orient": "horizontal", "size": 4, "thickness": 1.2, "color": "black"},
             "encoding": {
               "x": {"field": "cat", "type": "nominal", "sort": ["Basal", "ATP-linked", "Proton leak", "Maximal", "SRC", "Non-mitoch"], "scale": {"paddingInner": 0.25, "paddingOuter": 0.17}, "axis": {"title": null, "domain": false, "ticks": false, "labelAngle": -37, "labelFontSize": 14, "labelPadding": 4}},
               "xOffset": {"field": "g", "type": "nominal", "sort": ["N", "SYL", "IFNγ/SYL"], "scale": {"domain": ["N", "SYL", "IFNγ/SYL"], "paddingInner": 0.1, "paddingOuter": 0.05}},
               "y": {"field": "hi", "type": "quantitative", "stack": null, "scale": {"domain": [0, 1500], "nice": false}, "axis": {"values": [0, 500, 1000, 1500], "labelExpr": "'' + datum.value", "title": "OCR (pMoles/min)", "titlePadding": 4}}
             }},
            {"data": {"name": "zero"}, "mark": {"type": "rule", "strokeWidth": 1.5, "color": "black"},
             "encoding": {"y": {"field": "z", "type": "quantitative", "scale": {"domain": [0, 1500], "nice": false}, "axis": {"values": [0, 500, 1000, 1500], "labelExpr": "'' + datum.value", "title": "OCR (pMoles/min)", "titlePadding": 4}}}},
            {"data": {"name": "cbl"}, "mark": {"type": "tick", "orient": "horizontal", "size": 9, "thickness": 1.2, "color": "black"},
             "encoding": {
               "x": {"field": "cat", "type": "nominal", "sort": ["Basal", "ATP-linked", "Proton leak", "Maximal", "SRC", "Non-mitoch"], "scale": {"paddingInner": 0.25, "paddingOuter": 0.17}, "axis": {"title": null, "domain": false, "ticks": false, "labelAngle": -37, "labelFontSize": 14, "labelPadding": 4}},
               "xOffset": {"field": "pos", "type": "nominal", "scale": {"domain": ["N", "N|SYL", "SYL", "SYL|IFN", "IFN"], "paddingInner": 0, "paddingOuter": 0.5}},
               "y": {"field": "y", "type": "quantitative", "scale": {"domain": [0, 1500], "nice": false}, "axis": {"values": [0, 500, 1000, 1500], "labelExpr": "'' + datum.value", "title": "OCR (pMoles/min)", "titlePadding": 4}}
             }},
            {"data": {"name": "cbs"}, "mark": {"type": "text", "fontSize": 9, "baseline": "alphabetic", "dy": 1},
             "encoding": {
               "x": {"field": "cat", "type": "nominal", "sort": ["Basal", "ATP-linked", "Proton leak", "Maximal", "SRC", "Non-mitoch"], "scale": {"paddingInner": 0.25, "paddingOuter": 0.17}, "axis": {"title": null, "domain": false, "ticks": false, "labelAngle": -37, "labelFontSize": 14, "labelPadding": 4}},
               "xOffset": {"field": "pos", "type": "nominal", "scale": {"domain": ["N", "N|SYL", "SYL", "SYL|IFN", "IFN"], "paddingInner": 0, "paddingOuter": 0.5}},
               "y": {"field": "y", "type": "quantitative", "scale": {"domain": [0, 1500], "nice": false}, "axis": {"values": [0, 500, 1000, 1500], "labelExpr": "'' + datum.value", "title": "OCR (pMoles/min)", "titlePadding": 4}},
               "text": {"field": "s"}
             }}
          ]
        },
        {
          "width": 213, "height": 141,
          "title": {"text": "D.a", "offset": 12},
          "encoding": {"x": {"field": "t", "type": "quantitative", "scale": {"domain": [0, 80], "nice": false}, "axis": {"values": [0, 20, 40, 60, 80], "title": "Time (min)"}}},
          "layer": [
            {"data": {"name": "inj"}, "mark": {"type": "rule", "strokeDash": [2, 3.5], "strokeWidth": 2, "color": "black"}, "encoding": {}},
            {"data": {"name": "inj"}, "mark": {"type": "text", "baseline": "bottom", "dy": -2, "fontSize": 15}, "encoding": {"y": {"datum": 150, "type": "quantitative", "scale": {"domain": [0, 150], "nice": false}, "axis": {"values": [0, 50, 100, 150], "title": "ECAR (mpH/min)", "titlePadding": 9}}, "text": {"field": "lab"}}},
            {"data": {"name": "da"}, "transform": [{"filter": "datum.g != 'IFNγ/SYL'"}], "mark": {"type": "errorbar", "ticks": true, "size": 5, "thickness": 1.2, "color": "black"}, "encoding": {"y": {"field": "v", "type": "quantitative", "scale": {"domain": [0, 150], "nice": false}, "axis": {"values": [0, 50, 100, 150], "title": "ECAR (mpH/min)", "titlePadding": 9}}, "yError": {"field": "e"}}},
            {"data": {"name": "da"}, "transform": [{"filter": "datum.g == 'IFNγ/SYL'"}], "mark": {"type": "errorbar", "ticks": true, "size": 5, "thickness": 1.2, "color": "#2e9e6a"}, "encoding": {"y": {"field": "v", "type": "quantitative", "scale": {"domain": [0, 150], "nice": false}, "axis": {"values": [0, 50, 100, 150], "title": "ECAR (mpH/min)", "titlePadding": 9}}, "yError": {"field": "e"}}},
            {"data": {"name": "da"}, "transform": [{"filter": "datum.g != 'IFNγ/SYL'"}], "mark": {"type": "line", "strokeWidth": 1.5, "color": "black"}, "encoding": {"y": {"field": "v", "type": "quantitative", "scale": {"domain": [0, 150], "nice": false}, "axis": {"values": [0, 50, 100, 150], "title": "ECAR (mpH/min)", "titlePadding": 9}}, "detail": {"field": "g"}}},
            {"data": {"name": "da"}, "transform": [{"filter": "datum.g == 'IFNγ/SYL'"}], "mark": {"type": "line", "strokeWidth": 1.5, "color": "#2e9e6a"}, "encoding": {"y": {"field": "v", "type": "quantitative", "scale": {"domain": [0, 150], "nice": false}, "axis": {"values": [0, 50, 100, 150], "title": "ECAR (mpH/min)", "titlePadding": 9}}}},
            {"data": {"name": "da"}, "mark": {"type": "point", "size": 45, "strokeWidth": 1.5, "opacity": 1}, "encoding": {"y": {"field": "v", "type": "quantitative", "scale": {"domain": [0, 150], "nice": false}, "axis": {"values": [0, 50, 100, 150], "title": "ECAR (mpH/min)", "titlePadding": 9}},
              "shape": {"field": "g", "type": "nominal", "scale": {"domain": ["N", "SYL", "IFNγ/SYL"], "range": ["circle", "triangle-up", "diamond"]}, "legend": {"orient": "none", "title": null, "legendX": 169.3, "legendY": -7, "labelOffset": 11, "symbolSize": 55, "labelColor": {"expr": "datum.label == 'IFNγ/SYL' ? '#2e9e6a' : datum.label == 'SYL' ? '#8c8c8c' : 'black'"}}},
              "fill": {"field": "g", "type": "nominal", "scale": {"domain": ["N", "SYL", "IFNγ/SYL"], "range": ["white", "black", "#2e9e6a"]}, "legend": {"orient": "none", "title": null, "legendX": 169.3, "legendY": -7, "labelOffset": 11, "symbolSize": 55, "labelColor": {"expr": "datum.label == 'IFNγ/SYL' ? '#2e9e6a' : datum.label == 'SYL' ? '#8c8c8c' : 'black'"}}},
              "stroke": {"field": "g", "type": "nominal", "scale": {"domain": ["N", "SYL", "IFNγ/SYL"], "range": ["black", "black", "#2e9e6a"]}, "legend": {"orient": "none", "title": null, "legendX": 169.3, "legendY": -7, "labelOffset": 11, "symbolSize": 55, "labelColor": {"expr": "datum.label == 'IFNγ/SYL' ? '#2e9e6a' : datum.label == 'SYL' ? '#8c8c8c' : 'black'"}}}}}
          ]
        },
        {
          "width": 216, "height": 140,
          "title": {"text": "D.b", "offset": 17},
          "resolve": {"scale": {"xOffset": "independent"}},
          "layer": [
            {"data": {"name": "db"}, "mark": {"type": "bar", "stroke": "black", "strokeWidth": 1.2},
             "encoding": {
               "x": {"field": "cat", "type": "nominal", "sort": ["Basal", "Glycolytic capacity"], "scale": {"paddingInner": 0.3, "paddingOuter": 0.18}, "axis": {"title": null, "domain": false, "ticks": false, "labelAngle": 0, "labelFontSize": 14, "labelPadding": -6, "labelLineHeight": 17, "labelExpr": "datum.label == 'Glycolytic capacity' ? ['Glycolytic', 'capacity'] : datum.label"}},
               "xOffset": {"field": "g", "type": "nominal", "sort": ["N", "SYL", "IFNγ/SYL"], "scale": {"domain": ["N", "SYL", "IFNγ/SYL"], "paddingInner": 0.34, "paddingOuter": 0.17}},
               "y": {"field": "v", "type": "quantitative", "stack": null, "scale": {"domain": [-20, 80], "nice": false}, "axis": {"values": [-20, 0, 20, 40, 60, 80], "labelExpr": "'' + datum.value", "title": "ECAR (mpH/min)", "titlePadding": 18}},
               "fill": {"field": "g", "type": "nominal", "scale": {"domain": ["N", "SYL", "IFNγ/SYL"], "range": ["white", "black", "#2a9a68"]}, "legend": {"orient": "none", "title": null, "legendX": 137, "legendY": 3, "rowPadding": 5, "symbolType": "M-1,-0.7H1V0.7H-1Z", "symbolSize": 225, "symbolStrokeColor": "black", "labelOffset": 5, "labelColor": {"expr": "datum.label == 'IFNγ/SYL' ? '#2a9a68' : 'black'"}}}
             }},
            {"data": {"name": "db"}, "mark": {"type": "rule", "strokeWidth": 1.2, "color": "black"},
             "encoding": {
               "x": {"field": "cat", "type": "nominal", "sort": ["Basal", "Glycolytic capacity"], "scale": {"paddingInner": 0.3, "paddingOuter": 0.18}, "axis": {"title": null, "domain": false, "ticks": false, "labelAngle": 0, "labelFontSize": 14, "labelPadding": -6, "labelLineHeight": 17, "labelExpr": "datum.label == 'Glycolytic capacity' ? ['Glycolytic', 'capacity'] : datum.label"}},
               "xOffset": {"field": "g", "type": "nominal", "sort": ["N", "SYL", "IFNγ/SYL"], "scale": {"domain": ["N", "SYL", "IFNγ/SYL"], "paddingInner": 0.34, "paddingOuter": 0.17}},
               "y": {"field": "v", "type": "quantitative", "stack": null, "scale": {"domain": [-20, 80], "nice": false}, "axis": {"values": [-20, 0, 20, 40, 60, 80], "labelExpr": "'' + datum.value", "title": "ECAR (mpH/min)", "titlePadding": 18}},
               "y2": {"field": "hi"}
             }},
            {"data": {"name": "db"}, "mark": {"type": "tick", "orient": "horizontal", "size": 8, "thickness": 1.2, "color": "black"},
             "encoding": {
               "x": {"field": "cat", "type": "nominal", "sort": ["Basal", "Glycolytic capacity"], "scale": {"paddingInner": 0.3, "paddingOuter": 0.18}, "axis": {"title": null, "domain": false, "ticks": false, "labelAngle": 0, "labelFontSize": 14, "labelPadding": -6, "labelLineHeight": 17, "labelExpr": "datum.label == 'Glycolytic capacity' ? ['Glycolytic', 'capacity'] : datum.label"}},
               "xOffset": {"field": "g", "type": "nominal", "sort": ["N", "SYL", "IFNγ/SYL"], "scale": {"domain": ["N", "SYL", "IFNγ/SYL"], "paddingInner": 0.34, "paddingOuter": 0.17}},
               "y": {"field": "hi", "type": "quantitative", "stack": null, "scale": {"domain": [-20, 80], "nice": false}, "axis": {"values": [-20, 0, 20, 40, 60, 80], "labelExpr": "'' + datum.value", "title": "ECAR (mpH/min)", "titlePadding": 18}}
             }},
            {"data": {"name": "zero"}, "mark": {"type": "rule", "strokeWidth": 1.5, "color": "black"},
             "encoding": {"y": {"field": "z", "type": "quantitative", "scale": {"domain": [-20, 80], "nice": false}, "axis": {"values": [-20, 0, 20, 40, 60, 80], "labelExpr": "'' + datum.value", "title": "ECAR (mpH/min)", "titlePadding": 18}}}},
            {"data": {"name": "dbl"}, "mark": {"type": "tick", "orient": "horizontal", "size": 28, "thickness": 1.5, "color": "black"},
             "encoding": {
               "x": {"field": "cat", "type": "nominal", "sort": ["Basal", "Glycolytic capacity"], "scale": {"paddingInner": 0.3, "paddingOuter": 0.18}, "axis": {"title": null, "domain": false, "ticks": false, "labelAngle": 0, "labelFontSize": 14, "labelPadding": -6, "labelLineHeight": 17, "labelExpr": "datum.label == 'Glycolytic capacity' ? ['Glycolytic', 'capacity'] : datum.label"}},
               "xOffset": {"field": "pos", "type": "nominal", "scale": {"domain": ["N", "N|SYL", "SYL", "SYL|IFN", "IFN"], "paddingInner": 0, "paddingOuter": 0.5}},
               "y": {"field": "y", "type": "quantitative", "scale": {"domain": [-20, 80], "nice": false}, "axis": {"values": [-20, 0, 20, 40, 60, 80], "labelExpr": "'' + datum.value", "title": "ECAR (mpH/min)", "titlePadding": 18}}
             }},
            {"data": {"name": "dbs"}, "mark": {"type": "text", "fontSize": 11, "baseline": "alphabetic", "dy": 1},
             "encoding": {
               "x": {"field": "cat", "type": "nominal", "sort": ["Basal", "Glycolytic capacity"], "scale": {"paddingInner": 0.3, "paddingOuter": 0.18}, "axis": {"title": null, "domain": false, "ticks": false, "labelAngle": 0, "labelFontSize": 14, "labelPadding": -6, "labelLineHeight": 17, "labelExpr": "datum.label == 'Glycolytic capacity' ? ['Glycolytic', 'capacity'] : datum.label"}},
               "xOffset": {"field": "pos", "type": "nominal", "scale": {"domain": ["N", "N|SYL", "SYL", "SYL|IFN", "IFN"], "paddingInner": 0, "paddingOuter": 0.5}},
               "y": {"field": "y", "type": "quantitative", "scale": {"domain": [-20, 80], "nice": false}, "axis": {"values": [-20, 0, 20, 40, 60, 80], "labelExpr": "'' + datum.value", "title": "ECAR (mpH/min)", "titlePadding": 18}},
               "text": {"field": "s"}
             }}
          ]
        }
      ]
    }
  ]
}
